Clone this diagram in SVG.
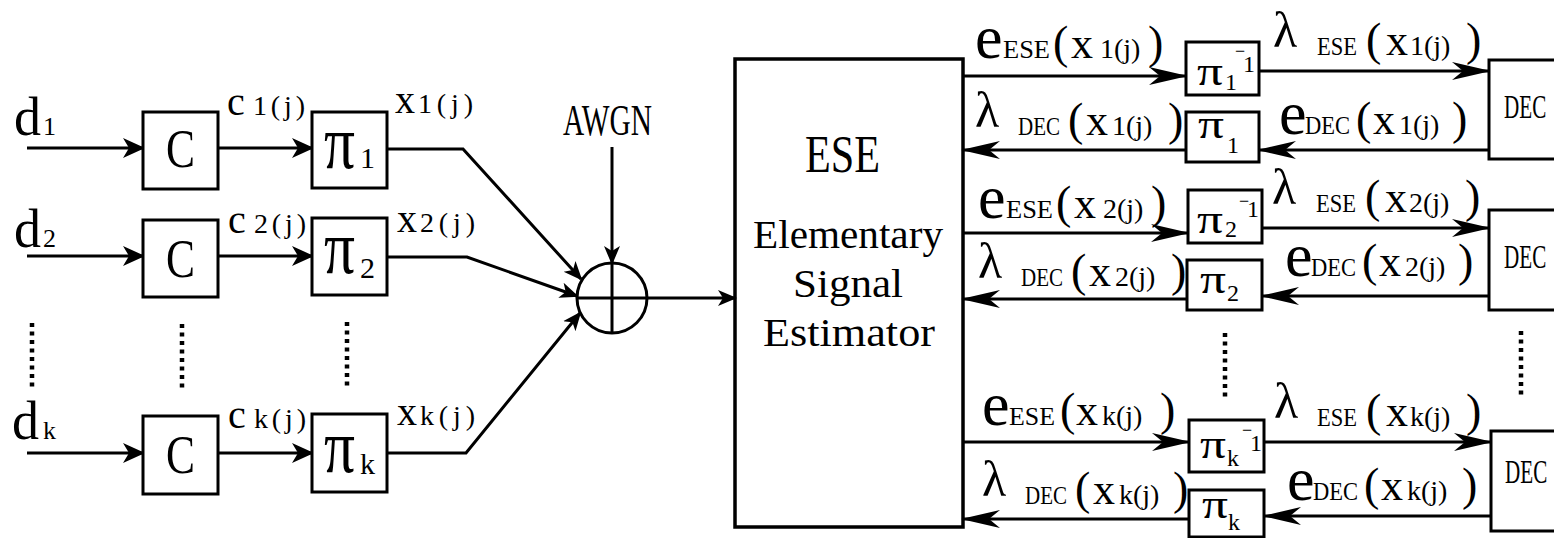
<svg xmlns="http://www.w3.org/2000/svg" width="1554" height="538" viewBox="0 0 1554 538">
  <style>
    text, tspan { font-family: "Liberation Serif", serif !important; }
  </style>
  <defs>
    <!-- short barbed head (left half) -->
    <marker id="ahS" markerUnits="userSpaceOnUse" markerWidth="24" markerHeight="22" refX="20" refY="11" orient="auto">
      <path d="M0,1 L22,11 L0,21 L6,11 z" fill="#000" stroke="none"/>
    </marker>
    <!-- small head (adder and ESE input) -->
    <marker id="ahM" markerUnits="userSpaceOnUse" markerWidth="20" markerHeight="18" refX="17" refY="9" orient="auto">
      <path d="M0,1 L19,9 L0,17 L5,9 z" fill="#000" stroke="none"/>
    </marker>
    <!-- long narrow head (ESE / DEC loop) -->
    <marker id="ahL" markerUnits="userSpaceOnUse" markerWidth="42" markerHeight="20" refX="37" refY="10" orient="auto">
      <path d="M0,1 L39,10 L0,19 L11,10 z" fill="#000" stroke="none"/>
    </marker>
  </defs>
  <rect width="1554" height="538" fill="#fff"/>

  <!-- connectors -->
  <g id="connectors" fill="none" stroke="#000" stroke-width="3">
    <line x1="27" y1="148" x2="143" y2="148" marker-end="url(#ahS)"/>
    <line x1="27" y1="256" x2="143" y2="256" marker-end="url(#ahS)"/>
    <line x1="27" y1="453" x2="143" y2="453" marker-end="url(#ahS)"/>
    <line x1="218" y1="148" x2="312" y2="148" marker-end="url(#ahS)"/>
    <line x1="218" y1="256" x2="312" y2="256" marker-end="url(#ahS)"/>
    <line x1="218" y1="453" x2="312" y2="453" marker-end="url(#ahS)"/>
    <polyline points="387,149 463,149 581,279" marker-end="url(#ahM)"/>
    <polyline points="387,257 467,257 577,296" marker-end="url(#ahM)"/>
    <polyline points="387,453 466,453 580,313" marker-end="url(#ahM)"/>
    <line x1="612" y1="147" x2="612" y2="263" marker-end="url(#ahM)"/>
    <line x1="647" y1="298" x2="735" y2="298" marker-end="url(#ahM)"/>

    <!-- user 1 loop -->
    <line x1="963" y1="76" x2="1186" y2="76" marker-end="url(#ahL)"/>
    <line x1="1259" y1="71" x2="1489" y2="71" marker-end="url(#ahL)"/>
    <line x1="1489" y1="150" x2="1259" y2="150" marker-end="url(#ahL)"/>
    <line x1="1186" y1="150" x2="963" y2="150" marker-end="url(#ahL)"/>
    <!-- user 2 loop -->
    <line x1="963" y1="233" x2="1188" y2="233" marker-end="url(#ahL)"/>
    <line x1="1262" y1="228" x2="1489" y2="228" marker-end="url(#ahL)"/>
    <line x1="1489" y1="296" x2="1262" y2="296" marker-end="url(#ahL)"/>
    <line x1="1187" y1="299" x2="963" y2="299" marker-end="url(#ahL)"/>
    <!-- user k loop -->
    <line x1="963" y1="442" x2="1189" y2="442" marker-end="url(#ahL)"/>
    <line x1="1264" y1="442" x2="1491" y2="442" marker-end="url(#ahL)"/>
    <line x1="1491" y1="516" x2="1264" y2="516" marker-end="url(#ahL)"/>
    <line x1="1189" y1="519" x2="963" y2="519" marker-end="url(#ahL)"/>

    <!-- ellipsis dots -->
    <g stroke-width="4.5" stroke-dasharray="4 4.5">
      <line x1="32" y1="323" x2="32" y2="387"/>
      <line x1="182" y1="324" x2="182" y2="388"/>
      <line x1="347" y1="322" x2="347" y2="386"/>
      <line x1="1225" y1="333" x2="1225" y2="397"/>
      <line x1="1521" y1="331" x2="1521" y2="395"/>
    </g>
  </g>

  <!-- input labels -->
  <g id="inputs">
    <text font-family="Liberation Serif" style="font-family:'Liberation Serif',serif !important" y="135"><tspan x="14" font-size="54">d</tspan><tspan x="43" font-size="26">1</tspan></text>
    <text font-family="Liberation Serif" style="font-family:'Liberation Serif',serif !important" y="247"><tspan x="14" font-size="54">d</tspan><tspan x="43" font-size="26">2</tspan></text>
    <text font-family="Liberation Serif" style="font-family:'Liberation Serif',serif !important" y="439"><tspan x="12" font-size="54">d</tspan><tspan x="43" font-size="26">k</tspan></text>
  </g>

  <!-- encoders -->
  <g id="enc1">
    <rect x="143" y="112" width="75" height="77" fill="#fff" stroke="#000" stroke-width="3"/>
    <text font-family="Liberation Serif" style="font-family:'Liberation Serif',serif !important" x="166" y="167" font-size="54" textLength="29" lengthAdjust="spacingAndGlyphs">C</text>
    <text font-family="Liberation Serif" style="font-family:'Liberation Serif',serif !important" y="115"><tspan x="227" font-size="40">c</tspan><tspan x="253" font-size="28" textLength="52" lengthAdjust="spacing">1(j)</tspan></text>
  </g>
  <g id="enc2">
    <rect x="143" y="220" width="75" height="77" fill="#fff" stroke="#000" stroke-width="3"/>
    <text font-family="Liberation Serif" style="font-family:'Liberation Serif',serif !important" x="166" y="277" font-size="54" textLength="29" lengthAdjust="spacingAndGlyphs">C</text>
    <text font-family="Liberation Serif" style="font-family:'Liberation Serif',serif !important" y="233"><tspan x="228" font-size="40">c</tspan><tspan x="254" font-size="28" textLength="52" lengthAdjust="spacing">2(j)</tspan></text>
  </g>
  <g id="enck">
    <rect x="143" y="416" width="75" height="78" fill="#fff" stroke="#000" stroke-width="3"/>
    <text font-family="Liberation Serif" style="font-family:'Liberation Serif',serif !important" x="166" y="473" font-size="54" textLength="29" lengthAdjust="spacingAndGlyphs">C</text>
    <text font-family="Liberation Serif" style="font-family:'Liberation Serif',serif !important" y="428"><tspan x="228" font-size="40">c</tspan><tspan x="254" font-size="28" textLength="52" lengthAdjust="spacing">k(j)</tspan></text>
  </g>

  <!-- interleavers -->
  <g id="pi1">
    <rect x="312" y="112" width="75" height="76" fill="#fff" stroke="#000" stroke-width="3"/>
    <text font-family="Liberation Serif" style="font-family:'Liberation Serif',serif !important" y="168"><tspan x="324" font-size="76" textLength="31" lengthAdjust="spacingAndGlyphs">π</tspan><tspan x="360" font-size="30">1</tspan></text>
    <text font-family="Liberation Serif" style="font-family:'Liberation Serif',serif !important" y="113"><tspan x="395" font-size="40">x</tspan><tspan x="418" font-size="28" textLength="55" lengthAdjust="spacing">1(j)</tspan></text>
  </g>
  <g id="pi2">
    <rect x="312" y="218" width="75" height="77" fill="#fff" stroke="#000" stroke-width="3"/>
    <text font-family="Liberation Serif" style="font-family:'Liberation Serif',serif !important" y="273"><tspan x="324" font-size="76" textLength="31" lengthAdjust="spacingAndGlyphs">π</tspan><tspan x="360" y="278" font-size="30">2</tspan></text>
    <text font-family="Liberation Serif" style="font-family:'Liberation Serif',serif !important" y="232"><tspan x="397" font-size="40">x</tspan><tspan x="420" font-size="28" textLength="55" lengthAdjust="spacing">2(j)</tspan></text>
  </g>
  <g id="pik">
    <rect x="312" y="414" width="75" height="78" fill="#fff" stroke="#000" stroke-width="3"/>
    <text font-family="Liberation Serif" style="font-family:'Liberation Serif',serif !important" y="472"><tspan x="324" font-size="76" textLength="31" lengthAdjust="spacingAndGlyphs">π</tspan><tspan x="360" y="474" font-size="30">k</tspan></text>
    <text font-family="Liberation Serif" style="font-family:'Liberation Serif',serif !important" y="425"><tspan x="397" font-size="40">x</tspan><tspan x="420" font-size="28" textLength="55" lengthAdjust="spacing">k(j)</tspan></text>
  </g>

  <!-- channel adder -->
  <g id="adder">
    <circle cx="612" cy="298" r="35" fill="#fff" stroke="#000" stroke-width="3"/>
    <line x1="577" y1="298" x2="647" y2="298" stroke="#000" stroke-width="3"/>
    <line x1="612" y1="263" x2="612" y2="333" stroke="#000" stroke-width="3"/>
    <text font-family="Liberation Serif" style="font-family:'Liberation Serif',serif !important" x="563" y="135" font-size="45" textLength="89" lengthAdjust="spacingAndGlyphs">AWGN</text>
  </g>

  <!-- elementary signal estimator -->
  <g id="ese">
    <rect x="735" y="59" width="228" height="468" fill="none" stroke="#000" stroke-width="3.5"/>
    <text font-family="Liberation Serif" style="font-family:'Liberation Serif',serif !important" x="805" y="172" font-size="53" textLength="75" lengthAdjust="spacingAndGlyphs">ESE</text>
    <text font-family="Liberation Serif" style="font-family:'Liberation Serif',serif !important" x="753" y="248" font-size="40" textLength="190" lengthAdjust="spacingAndGlyphs">Elementary</text>
    <text font-family="Liberation Serif" style="font-family:'Liberation Serif',serif !important" x="793" y="297" font-size="40" textLength="110" lengthAdjust="spacingAndGlyphs">Signal</text>
    <text font-family="Liberation Serif" style="font-family:'Liberation Serif',serif !important" x="763" y="346" font-size="40" textLength="172" lengthAdjust="spacingAndGlyphs">Estimator</text>
  </g>

  <!-- deinterleavers / interleavers on the decoder side -->
  <g id="deint1">
    <rect x="1186" y="42" width="73" height="53" fill="#fff" stroke="#000" stroke-width="3"/>
    <text font-family="Liberation Serif" style="font-family:'Liberation Serif',serif !important" y="85"><tspan x="1197" font-size="42" textLength="26" lengthAdjust="spacingAndGlyphs">π</tspan><tspan x="1225" y="90" font-size="24">1</tspan><tspan x="1235" y="57" font-size="18">−</tspan><tspan x="1243" y="72" font-size="24">1</tspan></text>
  </g>
  <g id="int1">
    <rect x="1186" y="112" width="73" height="50" fill="#fff" stroke="#000" stroke-width="3"/>
    <text font-family="Liberation Serif" style="font-family:'Liberation Serif',serif !important" y="138"><tspan x="1198" font-size="42" textLength="26" lengthAdjust="spacingAndGlyphs">π</tspan><tspan x="1227" y="153" font-size="24">1</tspan></text>
  </g>
  <g id="deint2">
    <rect x="1188" y="190" width="74" height="53" fill="#fff" stroke="#000" stroke-width="3"/>
    <text font-family="Liberation Serif" style="font-family:'Liberation Serif',serif !important" y="233"><tspan x="1197" font-size="42" textLength="26" lengthAdjust="spacingAndGlyphs">π</tspan><tspan x="1225" y="237" font-size="24">2</tspan><tspan x="1239" y="207" font-size="18">−</tspan><tspan x="1247" y="217" font-size="24">1</tspan></text>
  </g>
  <g id="int2">
    <rect x="1187" y="260" width="75" height="50" fill="#fff" stroke="#000" stroke-width="3"/>
    <text font-family="Liberation Serif" style="font-family:'Liberation Serif',serif !important" y="293"><tspan x="1200" font-size="42" textLength="26" lengthAdjust="spacingAndGlyphs">π</tspan><tspan x="1227" y="301" font-size="24">2</tspan></text>
  </g>
  <g id="deintk">
    <rect x="1189" y="420" width="75" height="52" fill="#fff" stroke="#000" stroke-width="3"/>
    <text font-family="Liberation Serif" style="font-family:'Liberation Serif',serif !important" y="458"><tspan x="1200" font-size="42" textLength="26" lengthAdjust="spacingAndGlyphs">π</tspan><tspan x="1227" y="466" font-size="24">k</tspan><tspan x="1242" y="436" font-size="18">−</tspan><tspan x="1250" y="451" font-size="24">1</tspan></text>
  </g>
  <g id="intk">
    <rect x="1189" y="490" width="75" height="47" fill="#fff" stroke="#000" stroke-width="3"/>
    <text font-family="Liberation Serif" style="font-family:'Liberation Serif',serif !important" y="518"><tspan x="1202" font-size="42" textLength="26" lengthAdjust="spacingAndGlyphs">π</tspan><tspan x="1228" y="530" font-size="24">k</tspan></text>
  </g>

  <!-- decoders (right edge runs off the page) -->
  <g id="dec1">
    <rect x="1489" y="60" width="80" height="99" fill="#fff" stroke="#000" stroke-width="3"/>
    <text font-family="Liberation Serif" style="font-family:'Liberation Serif',serif !important" transform="translate(1504,118) scale(0.64,1)" font-size="33">DEC</text>
  </g>
  <g id="dec2">
    <rect x="1489" y="210" width="80" height="100" fill="#fff" stroke="#000" stroke-width="3"/>
    <text font-family="Liberation Serif" style="font-family:'Liberation Serif',serif !important" transform="translate(1504,268) scale(0.64,1)" font-size="33">DEC</text>
  </g>
  <g id="deck">
    <rect x="1491" y="431" width="80" height="100" fill="#fff" stroke="#000" stroke-width="3"/>
    <text font-family="Liberation Serif" style="font-family:'Liberation Serif',serif !important" transform="translate(1505,483) scale(0.64,1)" font-size="33">DEC</text>
  </g>

  <!-- extrinsic / a-priori message labels -->
  <g id="msg-labels">
    <!-- user 1 -->
    <text font-family="Liberation Serif" style="font-family:'Liberation Serif',serif !important" y="58"><tspan x="975" font-size="62">e</tspan><tspan x="1003" font-size="26" textLength="47" lengthAdjust="spacingAndGlyphs">ESE</tspan><tspan x="1053" font-size="46">(</tspan><tspan x="1071" font-size="44">x</tspan><tspan x="1100" font-size="28">1(j)</tspan><tspan x="1148" font-size="46">)</tspan></text>
    <text font-family="Liberation Serif" style="font-family:'Liberation Serif',serif !important" y="55"><tspan x="1273" y="47" font-size="50">λ</tspan><tspan x="1317" y="55" font-size="26" textLength="40" lengthAdjust="spacingAndGlyphs">ESE</tspan><tspan x="1366" font-size="46">(</tspan><tspan x="1386" font-size="44">x</tspan><tspan x="1410" font-size="28">1(j)</tspan><tspan x="1466" font-size="46">)</tspan></text>
    <text font-family="Liberation Serif" style="font-family:'Liberation Serif',serif !important" y="135"><tspan x="975" y="127" font-size="50">λ</tspan><tspan x="1018" y="135" font-size="26" textLength="42" lengthAdjust="spacingAndGlyphs">DEC</tspan><tspan x="1068" font-size="46">(</tspan><tspan x="1086" font-size="44">x</tspan><tspan x="1112" font-size="28">1(j)</tspan><tspan x="1168" font-size="46">)</tspan></text>
    <text font-family="Liberation Serif" style="font-family:'Liberation Serif',serif !important" y="134"><tspan x="1279" font-size="62">e</tspan><tspan x="1305" font-size="26" textLength="45" lengthAdjust="spacingAndGlyphs">DEC</tspan><tspan x="1356" font-size="46">(</tspan><tspan x="1373" font-size="44">x</tspan><tspan x="1399" font-size="28">1(j)</tspan><tspan x="1452" font-size="46">)</tspan></text>
    <!-- user 2 -->
    <text font-family="Liberation Serif" style="font-family:'Liberation Serif',serif !important" y="218"><tspan x="978" font-size="62">e</tspan><tspan x="1006" font-size="26" textLength="47" lengthAdjust="spacingAndGlyphs">ESE</tspan><tspan x="1056" font-size="46">(</tspan><tspan x="1074" font-size="44">x</tspan><tspan x="1103" font-size="28">2(j)</tspan><tspan x="1151" font-size="46">)</tspan></text>
    <text font-family="Liberation Serif" style="font-family:'Liberation Serif',serif !important" y="212"><tspan x="1272" y="204" font-size="50">λ</tspan><tspan x="1316" y="212" font-size="26" textLength="40" lengthAdjust="spacingAndGlyphs">ESE</tspan><tspan x="1365" font-size="46">(</tspan><tspan x="1385" font-size="44">x</tspan><tspan x="1409" font-size="28">2(j)</tspan><tspan x="1465" font-size="46">)</tspan></text>
    <text font-family="Liberation Serif" style="font-family:'Liberation Serif',serif !important" y="286"><tspan x="978" y="278" font-size="50">λ</tspan><tspan x="1021" y="286" font-size="26" textLength="42" lengthAdjust="spacingAndGlyphs">DEC</tspan><tspan x="1071" font-size="46">(</tspan><tspan x="1089" font-size="44">x</tspan><tspan x="1115" font-size="28">2(j)</tspan><tspan x="1171" font-size="46">)</tspan></text>
    <text font-family="Liberation Serif" style="font-family:'Liberation Serif',serif !important" y="276"><tspan x="1285" font-size="62">e</tspan><tspan x="1311" font-size="26" textLength="45" lengthAdjust="spacingAndGlyphs">DEC</tspan><tspan x="1362" font-size="46">(</tspan><tspan x="1379" font-size="44">x</tspan><tspan x="1405" font-size="28">2(j)</tspan><tspan x="1458" font-size="46">)</tspan></text>
    <!-- user k -->
    <text font-family="Liberation Serif" style="font-family:'Liberation Serif',serif !important" y="425"><tspan x="982" font-size="62">e</tspan><tspan x="1009" font-size="26" textLength="46" lengthAdjust="spacingAndGlyphs">ESE</tspan><tspan x="1060" font-size="46">(</tspan><tspan x="1076" font-size="44">x</tspan><tspan x="1102" font-size="28">k(j)</tspan><tspan x="1160" font-size="46">)</tspan></text>
    <text font-family="Liberation Serif" style="font-family:'Liberation Serif',serif !important" y="426"><tspan x="1274" y="418" font-size="50">λ</tspan><tspan x="1317" y="426" font-size="26" textLength="40" lengthAdjust="spacingAndGlyphs">ESE</tspan><tspan x="1366" font-size="46">(</tspan><tspan x="1386" font-size="44">x</tspan><tspan x="1410" font-size="28">k(j)</tspan><tspan x="1466" font-size="46">)</tspan></text>
    <text font-family="Liberation Serif" style="font-family:'Liberation Serif',serif !important" y="504"><tspan x="982" y="496" font-size="50">λ</tspan><tspan x="1025" y="504" font-size="26" textLength="42" lengthAdjust="spacingAndGlyphs">DEC</tspan><tspan x="1075" font-size="46">(</tspan><tspan x="1093" font-size="44">x</tspan><tspan x="1119" font-size="28">k(j)</tspan><tspan x="1173" font-size="46">)</tspan></text>
    <text font-family="Liberation Serif" style="font-family:'Liberation Serif',serif !important" y="500"><tspan x="1287" font-size="62">e</tspan><tspan x="1313" font-size="26" textLength="45" lengthAdjust="spacingAndGlyphs">DEC</tspan><tspan x="1364" font-size="46">(</tspan><tspan x="1381" font-size="44">x</tspan><tspan x="1407" font-size="28">k(j)</tspan><tspan x="1462" font-size="46">)</tspan></text>
  </g>
</svg>
